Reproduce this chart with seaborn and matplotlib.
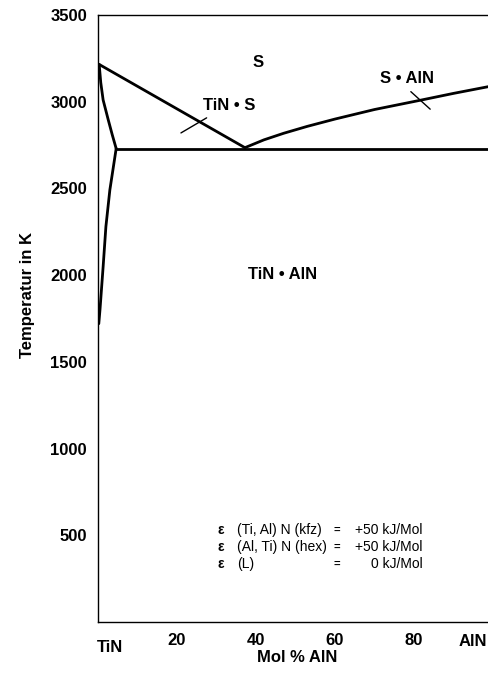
import matplotlib
matplotlib.use("Agg")
import matplotlib.pyplot as plt
import seaborn as sns
import pandas as pd

# --- data ---
liq_tin_x = [0.3, 37.2]
liq_tin_t = [3215, 2735]
liq_aln_x = [37.2, 42.0, 47.0, 53.0, 60.0, 70.0, 81.5, 90.0, 100.0]
liq_aln_t = [2735, 2780, 2818, 2858, 2900, 2955, 3008, 3048, 3092]
solidus_x = [0.3, 0.7, 1.3, 2.6, 3.6, 4.6]
solidus_t = [3215, 3110, 3010, 2895, 2810, 2730]
solvus_x = [4.6, 3.0, 2.0, 1.3, 0.5, 0.2]
solvus_t = [2730, 2491, 2280, 2049, 1800, 1720]
eutectic_x = [4.6, 100.0]
eutectic_t = [2730, 2730]
ptr1_x = [21.0, 27.5]
ptr1_t = [2820, 2907]
ptr2_x = [79.2, 84.1]
ptr2_t = [3058, 2957]

x_ticks = [20, 40, 60, 80]
y_ticks = [500, 1000, 1500, 2000, 2500, 3000, 3500]

region_labels = ["S", "TiN \u2022 S", "S \u2022 AlN", "TiN \u2022 AlN"]
region_x = [40.5, 33.2, 78.3, 46.8]
region_t = [3224, 2976, 3131, 2001]

legend_sym = ["\u03b5", "\u03b5", "\u03b5"]
legend_phase = ["(Ti, Al) N (kfz)", "(Al, Ti) N (hex)", "(L)"]
legend_val = ["+50 kJ/Mol", "+50 kJ/Mol", "0 kJ/Mol"]

sns.set_style("white")
plt.rcParams['font.family'] = ['Liberation Sans', 'DejaVu Sans']
plt.rcParams['text.color'] = 'black'
plt.rcParams['xtick.color'] = 'black'
plt.rcParams['ytick.color'] = 'black'
plt.rcParams['axes.labelcolor'] = 'black'

W, H = 489, 674
fig = plt.figure(figsize=(W / 100, H / 100), dpi=100)
left_px, right_px, top_px, bottom_px = 98, 493, 15, 622
ax = fig.add_axes([left_px / W, 1 - bottom_px / H, (right_px - left_px) / W, (bottom_px - top_px) / H])
ax.set_xlim(0, 100)
ax.set_ylim(0, 3500)

def curve(xs, ts, lw=2.0):
    df = pd.DataFrame({"x": xs, "T": ts})
    sns.lineplot(data=df, x="x", y="T", sort=False, color="black", lw=lw, ax=ax,
                 estimator=None, solid_joinstyle="round", solid_capstyle="round")

curve(liq_tin_x, liq_tin_t)
curve(liq_aln_x, liq_aln_t)
curve(solidus_x, solidus_t)
curve(solvus_x, solvus_t)
curve(eutectic_x, eutectic_t)
curve(ptr1_x, ptr1_t, lw=1.0)
curve(ptr2_x, ptr2_t, lw=1.0)

for lab, xv, tv in zip(region_labels, region_x, region_t):
    ax.text(xv, tv, lab, ha="center", va="center", fontsize=12, fontweight="bold", color="black")

leg_y = [530, 547, 564]
for i in range(3):
    yf = 1 - leg_y[i] / H
    fig.text(218 / W, yf, legend_sym[i], ha="left", va="center", fontsize=10, fontweight="bold")
    fig.text(237 / W, yf, legend_phase[i], ha="left", va="center", fontsize=10)
    fig.text(337 / W, yf, "=", ha="center", va="center", fontsize=8, fontweight="bold")
    fig.text(423 / W, yf, legend_val[i], ha="right", va="center", fontsize=10)

ax.spines["right"].set_visible(False)
for s in ["left", "bottom", "top"]:
    ax.spines[s].set_linewidth(1.0)
    ax.spines[s].set_color("black")

ax.set_xticks(x_ticks)
ax.set_yticks(y_ticks)
ax.tick_params(axis="x", direction="in", length=7, width=1.0, labelsize=12, pad=8, colors="black")
ax.tick_params(axis="y", direction="in", length=6, width=1.0, labelsize=12, pad=8, colors="black")
for lab in ax.get_xticklabels() + ax.get_yticklabels():
    lab.set_fontweight("bold")

ax.set_xlabel("")
ax.set_ylabel("")
fig.text(28 / W, 1 - 295 / H, "Temperatur in K", rotation=90, ha="center", va="center",
         fontsize=12, fontweight="bold")
fig.text(297 / W, 1 - 657 / H, "Mol % AlN", ha="center", va="center", fontsize=12, fontweight="bold")
fig.text(110 / W, 1 - 648 / H, "TiN", ha="center", va="center", fontsize=12, fontweight="bold")
fig.text(473 / W, 1 - 642 / H, "AlN", ha="center", va="center", fontsize=12, fontweight="bold")

fig.savefig("out.png", dpi=100)
